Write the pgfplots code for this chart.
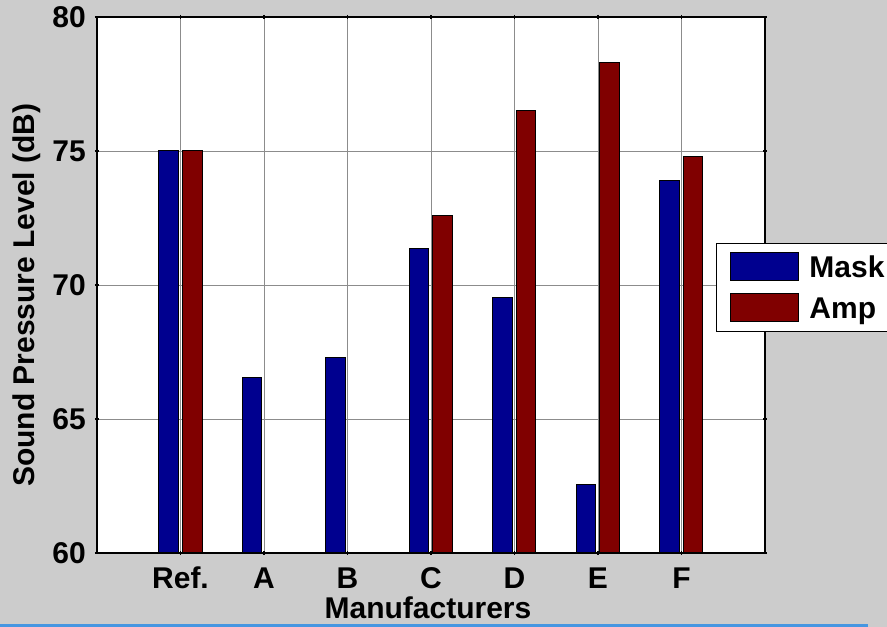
\documentclass[border=0pt]{standalone}
\usepackage{pgfplots}
\pgfplotsset{compat=1.18}
\usepackage{fontspec}
\setmainfont{Liberation Sans}
\definecolor{figbg}{RGB}{204,204,204}
\definecolor{maskblue}{RGB}{0,0,143}
\definecolor{ampred}{RGB}{128,0,0}
\definecolor{gridgray}{RGB}{140,140,140}
\definecolor{stripblue}{RGB}{70,150,225}
\newcommand\bigbold{\fontsize{30}{36}\selectfont\bfseries}

\begin{document}
\begin{tikzpicture}[x=1pt,y=1pt]
\useasboundingbox (0,0) rectangle (887,627);
\fill[figbg] (0,0) rectangle (887,627);
\fill[stripblue] (0,0) rectangle (868,2.5);
\begin{axis}[
    at={(97pt,74pt)}, anchor=south west,
    scale only axis, width=668pt, height=536pt,
    xmin=0, xmax=8, ymin=60, ymax=80,
    ybar=4pt, bar width=19.5pt,
    xtick={1,...,7}, xticklabels={Ref.,A,B,C,D,E,F},
    ytick={60,65,70,75,80},
    grid=major, major grid style={gridgray, line width=0.9pt},
    axis background/.style={fill=white},
    axis line style={black, line width=1.3pt},
    tick style={black, line width=1.3pt},
    tick align=center, major tick length=4pt,
    /pgf/number format/assume math mode=true,
    ticklabel style={font=\bigbold},
    label style={font=\bigbold},
    yticklabel style={anchor=east, inner sep=0pt, xshift=-9pt},
    xticklabel style={anchor=base, inner sep=0pt, yshift=-34pt},
    xlabel={Manufacturers},
    ylabel={Sound Pressure Level (dB)},
    xlabel style={at={(axis description cs:0.4955,-0.123)}, anchor=base, inner sep=0pt},
    ylabel style={at={(axis description cs:-0.1048,0.481)}, anchor=center, inner sep=0pt},
    legend cell align=left,
    legend style={at={(axis description cs:0.9266,0.5784)}, anchor=north west,
        draw=black, line width=1pt, fill=white, font=\bigbold,
        inner xsep=14pt, inner ysep=9pt, row sep=12pt, column sep=10pt,
        nodes={inner sep=0pt, anchor=base west}},
    mylegimg/.style={legend image code/.code={
        \draw[##1, line width=1pt] (0pt,-3.5pt) rectangle (68pt,24.5pt);}},
]
% Mask
\addplot[fill=maskblue, draw=black, line width=1pt, mylegimg] coordinates {
    (1,75.0) (2,66.56) (3,67.30) (4,71.37) (5,69.53) (6,62.54) (7,73.91)
};
% Amp (no values for A and B)
\addplot[fill=ampred, draw=black, line width=1pt, mylegimg] coordinates {
    (1,75.0) (4,72.59) (5,76.52) (6,78.31) (7,74.80)
};
\legend{Mask,Amp}
\end{axis}
\end{tikzpicture}
\end{document}
